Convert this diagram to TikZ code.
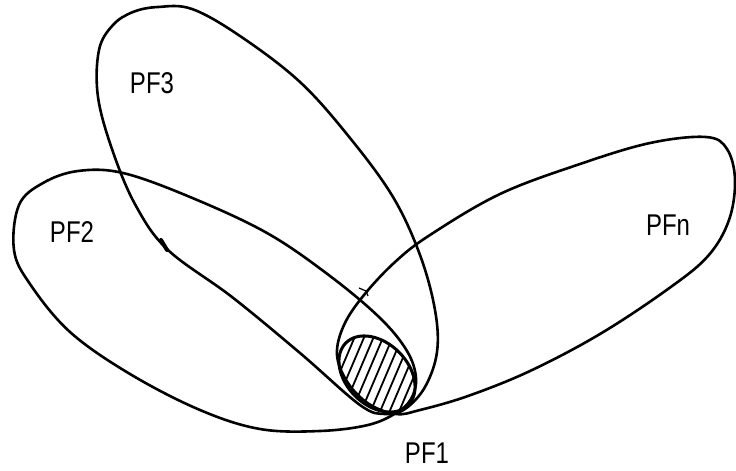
\documentclass[tikz,border=0pt]{standalone}
\usepackage{fontspec}
\usepackage{graphicx}
\setmainfont{Liberation Sans}
\begin{document}
\begin{tikzpicture}[x=1pt,y=-1pt,
  loop/.style={line width=2.6pt, line join=round},
  lab/.style={font=\fontsize{30}{30}\selectfont, inner sep=0pt},
  hatch/.style={line width=1.8pt}]
\useasboundingbox (0,0) rectangle (736,471);

% PF3
\draw[loop] plot[smooth cycle, tension=0.6] coordinates {
 (133,12) (158,7) (192,9) (240,36) (300,82) (350,138) (393,197) (420,255)
 (435,310) (437,352) (425,387) (405,409) (385,414) (360,405) (300,353)
 (232,297) (168,250) (136,206) (113,152) (98,97) (99,50) (113,25)};
% small thickening on PF3 left side
\draw[line width=4pt, line cap=round] (161,240) -- (167,250);

% PF2
\draw[loop] plot[smooth cycle, tension=0.6] coordinates {
 (19,205) (43,183) (78,171) (123,173) (190,197) (267,233) (330,276)
 (380,318) (407,351) (416,378) (411,399) (396,413) (368,425) (320,431)
 (260,429) (200,410) (130,374) (70,332) (30,284) (14,250)};

% PFn
\draw[loop] plot[smooth cycle, tension=0.6] coordinates {
 (430,235) (500,194) (580,164) (650,143) (706,137) (727,149) (735,180)
 (729,220) (708,256) (668,289) (600,334) (530,371) (468,396) (420,410)
 (396,414) (369,404) (348,383) (337,355) (344,325) (364,295) (395,262)};

% small tick near crossing
\draw[line width=1.2pt] (359,288) -- (366,291) -- (368,296);

% shaded region PF1
\coordinate (c) at (377,374);
\begin{scope}
  \clip[rotate around={-45:(c)}] (c) ellipse [x radius=44pt, y radius=31pt];
  \foreach \i in {-5,...,5}
    \draw[hatch] (c) ++(\i*9.5,0) ++(-20,47) -- ++(40,-94);
\end{scope}
\draw[line width=3pt, rotate around={-45:(c)}] (c) ellipse [x radius=44pt, y radius=31pt];

% labels
\node[lab] (pf3) at (152,83) {\scalebox{0.8}[1]{PF3}};
\node[lab] (pf2) at (72,232) {\scalebox{0.8}[1]{PF2}};
\node[lab] (pfn) at (668,225) {\scalebox{0.8}[1]{PFn}};
\node[lab] (pf1) at (427,453) {\scalebox{0.8}[1]{PF1}};
\end{tikzpicture}
\end{document}
